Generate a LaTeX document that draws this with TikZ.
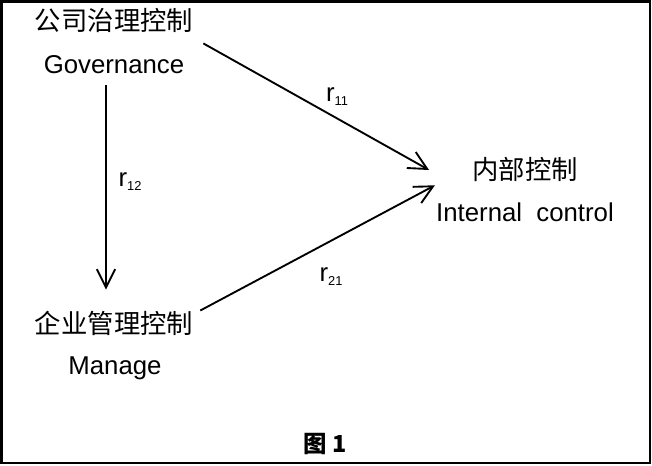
\documentclass[tikz,border=0pt]{standalone}
\usepackage{fontspec}
\setmainfont{Liberation Sans}
\newfontfamily\cjk{Noto Sans CJK SC}
\usetikzlibrary{arrows.meta}

\tikzset{
  cn/.style={inner sep=0pt, font=\cjk\fontsize{22.5}{27}\selectfont},
  en/.style={inner sep=0pt, font=\fontsize{22}{26}\selectfont},
  coef/.style={inner sep=0pt, font=\fontsize{22}{26}\selectfont},
  arr/.style={line width=1.6pt, -{Straight Barb[length=5.5mm,width=5.5mm]}},
}
\newcommand{\coefr}[1]{r\raisebox{-3.5pt}{\fontsize{11}{13}\selectfont #1}}

\begin{document}
\begin{tikzpicture}[x=0.03cm, y=-0.03cm]
  \useasboundingbox (0,0) rectangle (652,465);
  \draw[line width=2pt] (1.5,1.5) rectangle (650,463);
  % the three controls
  \node[cn] (govcn) at (114,20) {公司治理控制};
  \node[en] (goven) at (114,65) {Governance};
  \node[cn] (mgtcn) at (114,323) {企业管理控制};
  \node[en] (mgten) at (115,368) {Manage};
  \node[cn] (iccn) at (525,169) {内部控制};
  \node[en] (icen) at (525,212) {Internal~~control};
  % paths
  \draw[arr] ([shift={(-8,11)}]goven.south) -- ([shift={(-8,-21)}]mgtcn.north);
  \draw[arr] ([shift={(10,11)}]govcn.south east) -- ([shift={(-43,1)}]iccn.west);
  \draw[arr] ([shift={(7,0)}]mgtcn.north east) -- ([shift={(-1,-17)}]icen.north west);
  \node[coef] (r11) at (337,97) {\coefr{11}};
  \node[coef] (r12) at (130,182) {\coefr{12}};
  \node[coef] (r21) at (331,277) {\coefr{21}};
  \node[inner sep=0pt, font=\cjk\bfseries\fontsize{20}{24}\selectfont] (fig) at (325,444) {图 1};
\end{tikzpicture}
\end{document}
